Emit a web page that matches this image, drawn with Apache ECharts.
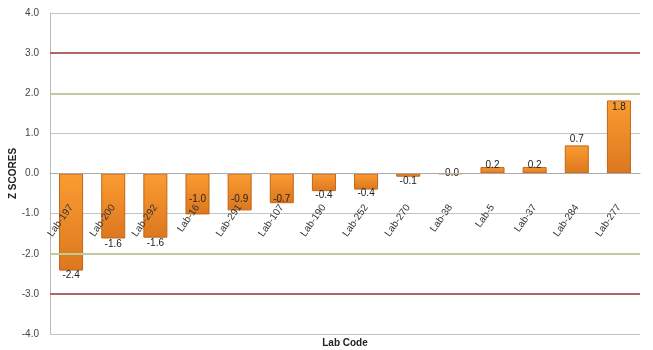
<!DOCTYPE html>
<html><head><meta charset="utf-8">
<script src="https://cdn.jsdelivr.net/npm/echarts@6/dist/echarts.min.js"></script>
<style>html,body{margin:0;padding:0;background:#fff}#c{width:653px;height:350px}</style>
</head><body><div id="c"></div>
<script>
var categories = ['Lab-197','Lab-200','Lab-292','Lab-16','Lab-291','Lab-107','Lab-190','Lab-252','Lab-270','Lab-38','Lab-5','Lab-37','Lab-284','Lab-277'];
var zScores = [-2.42,-1.62,-1.60,-1.02,-0.92,-0.74,-0.44,-0.40,-0.08,-0.01,0.16,0.16,0.70,1.82];
var labelPos = ['bottom','bottom','bottom','insideBottom','insideBottom','insideBottom','bottom','bottom','bottom','inside','insideTop','insideTop','top','insideTop'];
var labelDist = [0,1,1,10,6,-1,-1,-1,0,0,-7,-7,1,2];
var warnLines = [2,-2];
var actionLines = [3,-3];

var chart = echarts.init(document.getElementById('c'));
var font = 'Liberation Sans, Arial, sans-serif';
var data = zScores.map(function(v,i){
  return {value:v, label:{position:labelPos[i], distance:labelDist[i]}};
});
var marks = [];
warnLines.forEach(function(v){marks.push({yAxis:v, lineStyle:{color:'#c2c99e',width:2,type:'solid'}});});
actionLines.forEach(function(v){marks.push({yAxis:v, lineStyle:{color:'#b06666',width:2,type:'solid'}});});

var gridBottom = 16, chartH = 350;
chart.setOption({
  animation:false,
  backgroundColor:'#fff',
  grid:{left:50,right:13,top:13,bottom:gridBottom,containLabel:false,outerBoundsMode:'none'},
  xAxis:{
    type:'category', data:categories, z:10,
    name:'Lab Code', nameLocation:'middle', nameGap:4, nameMoveOverlap:false,
    nameTextStyle:{fontFamily:font,fontSize:10,fontWeight:'bold',color:'#222'},
    axisLine:{onZero:false,lineStyle:{color:'#aaa'}},
    axisTick:{show:false},
    axisLabel:{rotate:55,fontFamily:font,fontSize:10,color:'#333',margin:32,interval:0}
  },
  yAxis:{
    type:'value', min:-4, max:4, interval:1,
    name:'Z SCORES', nameLocation:'middle', nameGap:32, nameRotate:90, nameMoveOverlap:false,
    nameTextStyle:{fontFamily:font,fontSize:10,fontWeight:'bold',color:'#222'},
    axisLine:{show:true,lineStyle:{color:'#bbb'}},
    axisTick:{show:false},
    axisLabel:{formatter:function(v){return v.toFixed(1);},fontFamily:font,fontSize:10,color:'#444',margin:11},
    splitLine:{show:true,lineStyle:{color:'#c4c4c4',width:1}}
  },
  series:[{
    type:'bar', data:data, barWidth:'57%',
    itemStyle:{
      color:new echarts.graphic.LinearGradient(0,0,0,1,[{offset:0,color:'#fb9c32'},{offset:1,color:'#dc771e'}]),
      borderColor:'#c0661a', borderWidth:1
    },
    label:{show:true,fontFamily:font,fontSize:10,color:'#222',
      formatter:function(p){return p.value.toFixed(1);}},
    markLine:{silent:true,symbol:'none',label:{show:false},data:marks},
    z:3
  }]
});
var zeroPx = chart.convertToPixel({yAxisIndex:0}, 0);
var shift = (chartH - gridBottom) - zeroPx;
chart.setOption({xAxis:{offset:-shift, nameGap:4 + shift}});
</script></body></html>
